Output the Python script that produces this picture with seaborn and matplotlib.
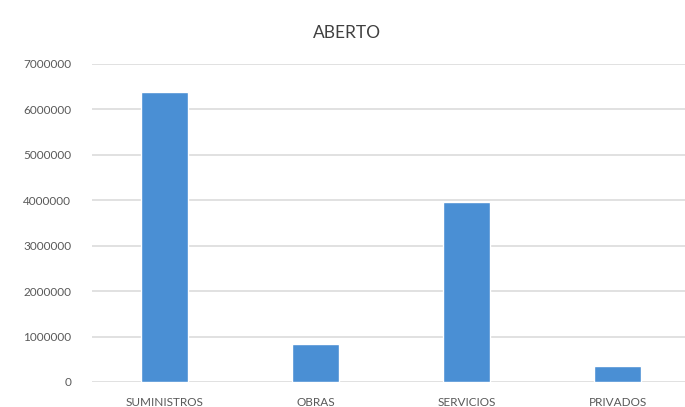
import matplotlib
matplotlib.use("Agg")
import matplotlib.pyplot as plt
import seaborn as sns
import pandas as pd

categories = ["SUMINISTROS", "OBRAS", "SERVICIOS", "PRIVADOS"]
values = [6390000, 840000, 3960000, 350000]
yticks = [0, 1000000, 2000000, 3000000, 4000000, 5000000, 6000000, 7000000]
title = "ABERTO"

sns.set_theme(style="white")
plt.rcParams['font.family'] = ['Lato', 'DejaVu Sans']

df = pd.DataFrame({"cat": categories, "val": values})

fig = plt.figure(figsize=(6.85, 4.07), dpi=100)
ax = fig.add_axes([92/685, 25/407, 1 - 92/685, 318/407])

sns.barplot(data=df, x="cat", y="val", color="#4a8fd4", width=0.31,
            saturation=1, ax=ax, zorder=3)

ax.set_ylim(0, 7000000)
ax.set_xlim(-0.48, 3.447)
ax.set_yticks(yticks)
ax.set_yticklabels([str(v) for v in yticks])
ax.grid(axis="y", color="#dcdcdc", linewidth=1.2, zorder=0)
ax.grid(axis="x", visible=False)
for s in ax.spines.values():
    s.set_visible(False)
ax.set_xlabel("")
ax.set_ylabel("")
ax.tick_params(axis="y", length=0, pad=15, labelsize=8.5, labelcolor="#595959")
ax.tick_params(axis="x", length=0, pad=11, labelsize=8.5, labelcolor="#595959")

fig.text(347/685, 1 - 33/407, title, ha="center", va="center",
         fontsize=12.5, color="#404040")

fig.savefig("out.png", dpi=100, facecolor="white")
